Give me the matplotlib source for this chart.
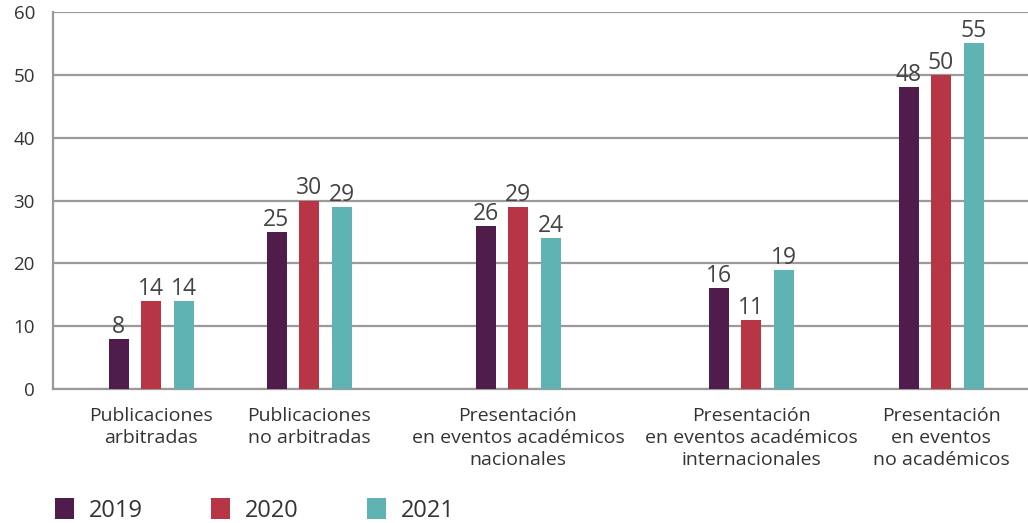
import matplotlib
matplotlib.use("Agg")
import matplotlib.pyplot as plt
import numpy as np
from matplotlib.patches import Patch

plt.rcParams["font.family"] = ["Open Sans", "DejaVu Sans"]

# Data
categories = [
    "Publicaciones\narbitradas",
    "Publicaciones\nno arbitradas",
    "Presentación\nen eventos académicos\nnacionales",
    "Presentación\nen eventos académicos\ninternacionales",
    "Presentación\nen eventos\nno académicos",
]
years = ["2019", "2020", "2021"]
values_2019 = [8, 25, 26, 16, 48]
values_2020 = [14, 30, 29, 11, 50]
values_2021 = [14, 29, 24, 19, 55]
yticks = [0, 10, 20, 30, 40, 50, 60]

colors = ["#4F1C4B", "#B83545", "#5FB3B3"]
grid_color = "#9a9a9a"
text_color = "#333333"

# group centres (uneven spacing as in the original), in axis pixel units
centers = np.array([98, 256, 465, 698, 888])
bar_w = 20
step = 32.5

fig = plt.figure(figsize=(10.28, 5.23), dpi=100)
ax = fig.add_axes([53 / 1028, (523 - 389) / 523, (1028 - 53) / 1028, 377 / 523])

series = [values_2019, values_2020, values_2021]
for i, (vals, col, yr) in enumerate(zip(series, colors, years)):
    xs = centers + (i - 1) * step
    bars = ax.bar(xs, vals, width=bar_w, color=col, label=yr, zorder=3)
    ax.bar_label(bars, labels=[str(v) for v in vals], padding=0,
                 fontsize=16.5, color="#444444")

ax.set_xlim(0, 975)
ax.set_ylim(0, 60)
ax.set_yticks(yticks)
ax.set_yticklabels([str(t) for t in yticks], fontsize=13.5, color=text_color)
ax.set_xticks(centers)
ax.set_xticklabels(categories, fontsize=14, color=text_color, linespacing=1.28)
ax.tick_params(axis="both", length=0)
ax.tick_params(axis="y", pad=13)
ax.tick_params(axis="x", pad=13)

ax.yaxis.grid(True, color=grid_color, linewidth=1.6, zorder=0)
ax.set_axisbelow(True)
for side in ["top", "right"]:
    ax.spines[side].set_visible(False)
for side in ["left", "bottom"]:
    ax.spines[side].set_color(grid_color)
    ax.spines[side].set_linewidth(1.6)

handles = [Patch(facecolor=c, edgecolor="none") for c in colors]
fig.legend(handles, years, loc="lower left", bbox_to_anchor=(0.033, -0.04),
           ncol=3, frameon=False, fontsize=17, handlelength=0.78,
           handleheight=1.0, handletextpad=0.65, columnspacing=2.9,
           labelcolor=text_color)

fig.savefig("out.png", dpi=100)
